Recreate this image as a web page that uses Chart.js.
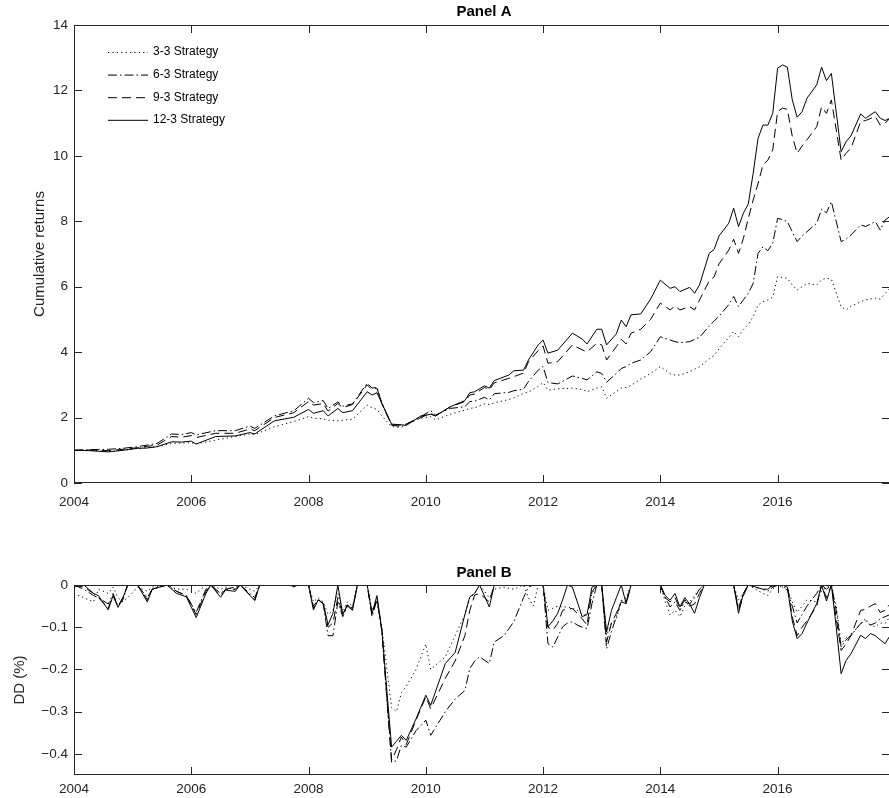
<!DOCTYPE html>
<html>
<head>
<meta charset="utf-8">
<script src="https://cdn.jsdelivr.net/npm/chart.js@4.4.1/dist/chart.umd.min.js"></script>
<style>
  html, body { margin: 0; padding: 0; background: #fff; overflow: hidden; width: 889px; height: 798px; }
  .panel { position: absolute; left: 0; }
  #wrapA { top: 0; }
  #wrapB { top: 560px; }
</style>
</head>
<body>
<div id="wrapA" class="panel"><canvas id="panelA" width="891" height="560"></canvas></div>
<div id="wrapB" class="panel"><canvas id="panelB" width="891" height="238"></canvas></div>
<script>
// Month index 0 = January 2004, 167 = December 2017
const yearTicks = [2004, 2006, 2008, 2010, 2012, 2014, 2016];
const seriesNames = ['3-3 Strategy', '6-3 Strategy', '9-3 Strategy', '12-3 Strategy'];

// Panel A: cumulative returns
const monthsA = [0,3,7,10,13,15,17,20,22,24, 25,29,33,36,37,41,45,48,49,51, 52,54,55,57,60,61,62,63,65,67,
  68,71,73,74,77,80,81,82,84,85, 86,89,90,92,93,95,96,97,99,102, 104,105,107,108,109,111,112,113,114,116,
  118,120,122,123,124,126,127,128,130,131, 132,134,135,136,137,138,139,140,141,142, 143,144,145,146,147,148,149,150,152,153,
  154,155,157,158,159,161,162,164,165,166, 167];

const cum33 = [1.00,1.00,0.96,1.00,1.06,1.08,1.11,1.21,1.22,1.23,
  1.20,1.31,1.42,1.50,1.48,1.72,1.88,2.03,1.98,1.96,
  1.92,1.90,1.92,1.95,2.38,2.30,2.25,2.05,1.72,1.70,
  1.80,1.98,2.03,1.93,2.10,2.23,2.28,2.30,2.42,2.40,
  2.45,2.55,2.60,2.74,2.78,2.95,3.07,2.84,2.88,2.90,
  2.86,2.79,2.90,2.94,2.59,2.80,2.90,2.92,2.98,3.18,
  3.35,3.56,3.34,3.30,3.30,3.40,3.48,3.55,3.80,3.90,
  4.10,4.45,4.63,4.47,4.70,4.85,5.09,5.44,5.54,5.60,
  5.68,6.31,6.28,6.26,6.05,5.90,6.00,6.10,6.05,6.21,
  6.26,6.23,5.39,5.29,5.40,5.54,5.60,5.65,5.62,5.80,
  5.95];

const cum63 = [1.00,1.02,1.03,1.06,1.11,1.16,1.21,1.50,1.48,1.54,
  1.47,1.60,1.60,1.74,1.67,2.05,2.21,2.59,2.46,2.52,
  2.28,2.48,2.35,2.42,3.05,2.90,2.93,2.44,1.77,1.72,
  1.80,2.03,2.21,2.08,2.28,2.33,2.49,2.50,2.62,2.54,
  2.73,2.77,2.82,2.87,3.10,3.45,3.56,3.07,3.03,3.27,
  3.20,3.15,3.40,3.35,3.08,3.35,3.50,3.56,3.66,3.76,
  4.01,4.47,4.37,4.32,4.29,4.32,4.39,4.45,4.80,4.95,
  5.10,5.45,5.70,5.39,5.60,5.80,6.10,7.02,7.22,7.10,
  7.33,8.09,8.05,7.99,7.68,7.38,7.55,7.68,7.94,8.37,
  8.26,8.60,7.38,7.45,7.58,7.89,7.84,7.99,7.73,8.04,
  8.15];

const cum93 = [1.00,1.01,0.99,1.03,1.08,1.12,1.16,1.42,1.40,1.45,
  1.39,1.52,1.52,1.65,1.60,2.00,2.15,2.49,2.38,2.43,
  2.20,2.43,2.30,2.40,3.00,2.85,2.90,2.42,1.77,1.77,
  1.80,2.00,2.13,2.05,2.33,2.49,2.69,2.72,2.92,2.85,
  3.06,3.20,3.25,3.36,3.70,4.05,4.19,3.66,3.71,4.22,
  4.07,4.01,4.27,4.22,3.76,4.17,4.39,4.25,4.58,4.70,
  5.00,5.50,5.29,5.41,5.29,5.39,5.29,5.59,6.18,6.30,
  6.70,7.12,7.45,7.02,7.48,8.09,8.65,9.16,9.72,9.87,
  10.18,11.35,11.46,11.42,10.60,10.08,10.30,10.49,10.89,11.50,
  11.30,11.71,9.87,10.08,10.23,11.05,11.08,11.20,10.94,11.00,
  11.15];

const cum123 = [1.00,0.99,0.95,1.00,1.06,1.07,1.11,1.26,1.25,1.28,
  1.19,1.42,1.44,1.54,1.50,1.90,2.01,2.25,2.13,2.21,
  2.05,2.28,2.15,2.21,2.79,2.69,2.76,2.44,1.80,1.78,
  1.76,2.05,2.10,2.05,2.33,2.52,2.76,2.79,2.97,2.90,
  3.13,3.30,3.43,3.45,3.76,4.22,4.37,3.97,4.06,4.58,
  4.40,4.25,4.70,4.70,4.22,4.56,4.98,4.78,5.14,5.17,
  5.62,6.20,5.95,6.00,5.85,5.98,5.80,6.05,7.02,7.14,
  7.55,7.94,8.40,7.84,8.25,8.53,9.47,10.54,10.94,10.94,
  11.30,12.68,12.78,12.71,11.71,11.18,11.35,11.76,12.17,12.71,
  12.30,12.52,10.13,10.43,10.61,11.28,11.15,11.35,11.15,11.08,
  11.15];

// Panel B: drawdowns
const monthsB = [0,2,4,5,7,8,9,10,11,13, 15,16,19,21,23,25,27,28,30,31, 33,34,37,38,44,45,46,48,49,50,
  51,52,53,54,55,56,57,58,60,61, 62,63,65,66,67,68,70,72,73,76, 78,80,81,82,83,85,86,88,90,92,
  93,94,95,96,97,98,99,100,101,102, 103,104,105,106,107,108,109,110,111,112, 113,114,120,121,122,123,124,125,126,127,
  128,129,135,136,137,138,141,142,143,144, 145,146,147,148,149,150,152,153,154,155, 156,157,158,159,161,162,163,164,165,166,
  167];

const dd33 = [-0.02,-0.03,-0.04,-0.01,-0.02,-0.005,-0.03,-0.04,-0.03,-0.005,
  -0.015,-0.005,0,-0.01,-0.01,-0.02,0,0,-0.01,-0.005,
  -0.01,0,-0.015,0,0,-0.005,0,0,-0.04,-0.03,
  -0.04,-0.07,-0.06,-0.02,-0.06,-0.04,-0.05,0,0,-0.06,
  -0.04,-0.10,-0.29,-0.30,-0.255,-0.24,-0.20,-0.14,-0.20,-0.17,
  -0.12,-0.07,-0.03,-0.02,0,-0.03,-0.01,-0.005,-0.01,0,
  -0.03,-0.05,0,0,-0.06,-0.055,-0.05,-0.052,-0.052,-0.055,
  -0.06,-0.07,-0.071,-0.02,0,0,-0.119,-0.09,-0.08,-0.04,
  -0.03,0,0,-0.04,-0.071,-0.06,-0.075,-0.05,-0.04,-0.025,
  -0.01,0,0,-0.035,-0.02,0,-0.02,-0.025,-0.01,0,
  -0.005,-0.008,-0.04,-0.065,-0.05,-0.035,-0.04,-0.015,-0.005,0,
  -0.05,-0.139,-0.125,-0.12,-0.09,-0.08,-0.095,-0.099,-0.09,-0.091,
  -0.075];

const dd63 = [0,-0.01,-0.025,-0.03,-0.045,-0.02,-0.05,-0.035,0,0,
  -0.03,-0.01,0,-0.015,-0.025,-0.065,-0.01,0,-0.02,-0.01,
  -0.005,0,-0.03,0,0,-0.003,0,0,-0.05,-0.035,
  -0.045,-0.12,-0.12,-0.04,-0.075,-0.05,-0.06,0,0,-0.075,
  -0.035,-0.11,-0.42,-0.416,-0.38,-0.384,-0.345,-0.32,-0.356,-0.30,
  -0.27,-0.25,-0.198,-0.18,-0.17,-0.186,-0.135,-0.12,-0.087,-0.03,
  -0.005,0,0,0,-0.139,-0.147,-0.123,-0.099,-0.09,-0.087,
  -0.095,-0.10,-0.103,-0.044,0,0,-0.151,-0.11,-0.075,-0.036,
  -0.04,0,0,-0.03,-0.052,-0.04,-0.06,-0.04,-0.045,-0.03,
  -0.01,0,0,-0.054,-0.02,0,-0.01,-0.015,-0.005,0,
  -0.005,-0.012,-0.05,-0.09,-0.07,-0.05,-0.02,0,-0.01,0,
  -0.06,-0.147,-0.13,-0.12,-0.091,-0.085,-0.095,-0.09,-0.08,-0.075,
  -0.07];

const dd93 = [0,-0.005,-0.02,-0.03,-0.055,-0.025,-0.05,-0.03,0,0,
  -0.035,-0.01,0,-0.015,-0.025,-0.07,-0.015,0,-0.025,-0.01,
  -0.01,0,-0.035,0,0,-0.003,0,0,-0.055,-0.035,
  -0.045,-0.10,-0.09,-0.03,-0.07,-0.045,-0.055,0,0,-0.07,
  -0.03,-0.105,-0.415,-0.39,-0.36,-0.378,-0.32,-0.265,-0.293,-0.221,
  -0.18,-0.12,-0.06,-0.024,-0.02,-0.04,0,0,0,0,
  0,0,0,0,-0.10,-0.107,-0.091,-0.06,-0.056,-0.056,
  -0.067,-0.08,-0.095,-0.016,0,0,-0.135,-0.09,-0.067,-0.04,
  -0.044,0,0,-0.03,-0.04,-0.03,-0.055,-0.035,-0.05,-0.045,
  -0.02,0,0,-0.06,-0.025,0,-0.01,-0.01,0,0,
  0,-0.004,-0.075,-0.12,-0.10,-0.085,-0.05,0,-0.03,0,
  -0.08,-0.155,-0.14,-0.12,-0.06,-0.058,-0.05,-0.044,-0.065,-0.06,
  -0.045];

const dd123 = [-0.005,0,-0.02,-0.025,-0.059,-0.025,-0.053,-0.031,0,0,
  -0.04,-0.01,0,-0.02,-0.028,-0.077,-0.02,0,-0.029,-0.012,
  -0.015,0,-0.037,0,0,-0.003,0,0,-0.059,-0.035,
  -0.043,-0.094,-0.067,0,-0.07,-0.047,-0.059,0,0,-0.067,
  -0.025,-0.107,-0.384,-0.37,-0.356,-0.368,-0.317,-0.261,-0.285,-0.186,
  -0.16,-0.07,-0.028,-0.02,0,-0.052,0,0,0,0,
  0,0,0,0,-0.099,-0.085,-0.067,-0.035,0,-0.005,
  -0.04,-0.075,-0.07,-0.005,0,0,-0.111,-0.06,-0.03,0,
  -0.044,0,0,-0.025,-0.036,-0.02,-0.052,-0.03,-0.045,-0.067,
  -0.03,0,0,-0.067,-0.02,0,0,0,-0.005,0,
  0,-0.005,-0.085,-0.127,-0.115,-0.09,-0.044,0,-0.038,0,
  -0.1,-0.21,-0.179,-0.163,-0.119,-0.127,-0.115,-0.12,-0.13,-0.139,
  -0.12];

// Line patterns: dotted, dash-dot, dashed, solid
const dashPatterns = [[1.2, 3.2], [9, 3, 1.5, 3], [9, 5], []];

const FONT = '"Liberation Sans", Arial, Helvetica, sans-serif';
const TEXT = '#262626';
const TICK_SIZE = 13.5;
Chart.defaults.font.family = FONT;
Chart.defaults.color = TEXT;
Chart.defaults.animation = false;

function toPoints(months, values) {
  return months.map((m, i) => ({ x: m, y: values[i] }));
}

function buildDatasets(months, seriesList) {
  return seriesList.map((vals, i) => ({
    label: seriesNames[i],
    data: toPoints(months, vals),
    borderColor: '#000',
    borderWidth: 1,
    borderDash: dashPatterns[i],
    pointRadius: 0,
    tension: 0,
    fill: false
  }));
}

// Box around the plot area, inward tick marks on all four sides, titles, legend
const framePlugin = {
  id: 'frame',
  afterDatasetsDraw(chart, args, opts) {
    const { ctx, chartArea: a, scales: { x, y } } = chart;
    const L = opts.tickLen;
    ctx.save();
    ctx.strokeStyle = TEXT;
    ctx.lineWidth = 1;
    ctx.setLineDash([]);
    ctx.strokeRect(a.left + 0.5, a.top + 0.5, a.right - a.left, a.bottom - a.top - 1);
    ctx.beginPath();
    x.ticks.forEach(t => {
      const px = Math.round(x.getPixelForValue(t.value)) + 0.5;
      ctx.moveTo(px, a.bottom); ctx.lineTo(px, a.bottom - L);
      ctx.moveTo(px, a.top); ctx.lineTo(px, a.top + L);
    });
    y.ticks.forEach(t => {
      const py = Math.round(y.getPixelForValue(t.value)) + 0.5;
      ctx.moveTo(a.left, py); ctx.lineTo(a.left + L, py);
      ctx.moveTo(a.right, py); ctx.lineTo(a.right - L, py);
    });
    ctx.stroke();

    ctx.fillStyle = '#000';
    ctx.textAlign = 'center';
    ctx.textBaseline = 'middle';
    ctx.font = 'bold 15px ' + FONT;
    ctx.fillText(opts.title, (a.left + a.right) / 2 + 2, opts.titleY);

    ctx.save();
    ctx.fillStyle = TEXT;
    ctx.font = '15px ' + FONT;
    ctx.translate(opts.yTitleX, (a.top + a.bottom) / 2);
    ctx.rotate(-Math.PI / 2);
    ctx.fillText(opts.yTitle, 0, 0);
    ctx.restore();

    if (opts.legend) {
      const lg = opts.legend;
      ctx.font = '12px ' + FONT;
      ctx.textAlign = 'left';
      ctx.fillStyle = '#000';
      chart.data.datasets.forEach((ds, i) => {
        const yy = lg.y + i * lg.step;
        ctx.beginPath();
        ctx.setLineDash(ds.borderDash);
        ctx.strokeStyle = '#000';
        ctx.moveTo(lg.x, yy + 0.5);
        ctx.lineTo(lg.x + lg.len, yy + 0.5);
        ctx.stroke();
        ctx.setLineDash([]);
        ctx.fillText(ds.label, lg.x + lg.len + 5, yy);
      });
    }
    ctx.restore();
  }
};

function monthAxis(labelPad, axisHeight) {
  return {
    type: 'linear',
    min: 0,
    max: 167,
    grid: { display: false, drawTicks: false },
    border: { display: false },
    afterBuildTicks: s => { s.ticks = yearTicks.map(yr => ({ value: (yr - 2004) * 12 })); },
    afterFit: s => { s.height = axisHeight; },
    ticks: {
      padding: labelPad,
      autoSkip: false,
      maxRotation: 0,
      color: TEXT,
      font: { size: TICK_SIZE },
      callback: v => String(2004 + v / 12)
    }
  };
}

new Chart(document.getElementById('panelA'), {
  type: 'line',
  data: { datasets: buildDatasets(monthsA, [cum33, cum63, cum93, cum123]) },
  options: {
    responsive: false,
    devicePixelRatio: 1,
    layout: { padding: { top: 25, right: 1, left: 0, bottom: 0 } },
    plugins: {
      legend: { display: false },
      tooltip: { enabled: false },
      frame: {
        tickLen: 8,
        title: 'Panel A',
        titleY: 12,
        yTitle: 'Cumulative returns',
        yTitleX: 40,
        legend: { x: 108, y: 52, step: 22.6, len: 40 }
      }
    },
    scales: {
      x: monthAxis(11, 77),
      y: {
        min: 0,
        max: 14,
        grid: { display: false, drawTicks: false },
        border: { display: false },
        afterFit: s => { s.width = 74; },
        ticks: { stepSize: 2, padding: 6, color: TEXT, font: { size: TICK_SIZE } }
      }
    }
  },
  plugins: [framePlugin]
});

new Chart(document.getElementById('panelB'), {
  type: 'line',
  data: { datasets: buildDatasets(monthsB, [dd33, dd63, dd93, dd123]) },
  options: {
    responsive: false,
    devicePixelRatio: 1,
    layout: { padding: { top: 25, right: 1, left: 0, bottom: 0 } },
    plugins: {
      legend: { display: false },
      tooltip: { enabled: false },
      frame: {
        tickLen: 8,
        title: 'Panel B',
        titleY: 13,
        yTitle: 'DD (%)',
        yTitleX: 20
      }
    },
    scales: {
      x: monthAxis(6, 23),
      y: {
        min: -0.45,
        max: 0,
        grid: { display: false, drawTicks: false },
        border: { display: false },
        afterFit: s => { s.width = 74; },
        afterBuildTicks: s => { s.ticks = [-0.4, -0.3, -0.2, -0.1, 0].map(v => ({ value: v })); },
        ticks: {
          padding: 6,
          color: TEXT,
          font: { size: TICK_SIZE },
          callback: v => (v === 0 ? '0' : '\u2212' + Math.abs(v).toFixed(1))
        }
      }
    }
  },
  plugins: [framePlugin]
});
</script>
</body>
</html>
